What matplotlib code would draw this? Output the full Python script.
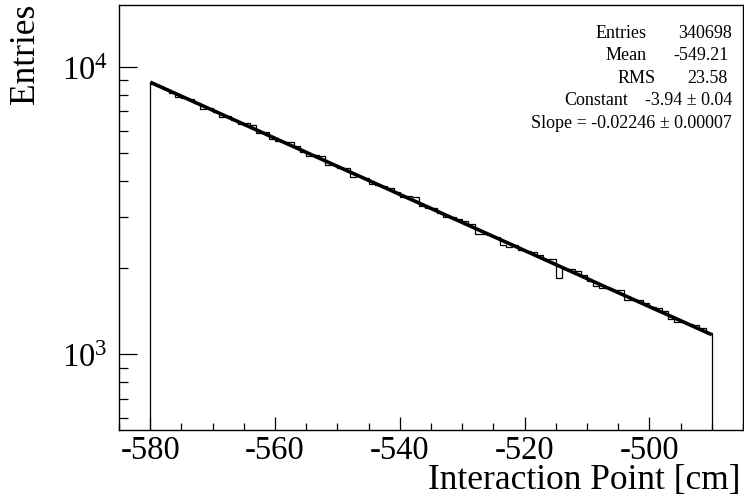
import numpy as np
import matplotlib
matplotlib.use("Agg")
import matplotlib.pyplot as plt
from matplotlib.ticker import MultipleLocator, FixedLocator, NullFormatter

# histogram: 90 bins of 1 cm between -580 and -490
bin_lo = -580
bin_hi = -490
counts = [
    8739, 8588, 8355, 8088, 7828, 7811, 7713, 7467, 7156, 7210,
    6981, 6689, 6741, 6526, 6317, 6364, 6254, 5905, 5950, 5589,
    5521, 5453, 5465, 5318, 5047, 4884, 4923, 4885, 4544, 4556,
    4455, 4443, 4131, 4165, 4113, 3902, 3893, 3845, 3796, 3676,
    3523, 3550, 3522, 3277, 3220, 3229, 3110, 3011, 3004, 2966,
    2914, 2850, 2623, 2631, 2599, 2566, 2410, 2368, 2399, 2300,
    2294, 2277, 2214, 2144, 2138, 1847, 1985, 1980, 1945, 1883,
    1796, 1730, 1699, 1696, 1675, 1678, 1545, 1550, 1546, 1512,
    1463, 1452, 1413, 1328, 1298, 1295, 1279, 1269, 1235, 1184,
]

# expo fit parameters: exp(const + slope * x)
fit_const = -3.94
fit_slope = -0.02246

stat_names = ["Entries", "Mean", "RMS", "Constant"]
stat_values = ["340698", "-549.21", "23.58", "-3.94 \u00b1 0.04"]
slope_text = "Slope = -0.02246 \u00b1 0.00007"

plt.rcParams["font.family"] = ["Liberation Serif", "DejaVu Serif"]
plt.rcParams["mathtext.fontset"] = "custom"
plt.rcParams["mathtext.rm"] = "Liberation Serif"
plt.rcParams["axes.unicode_minus"] = False

W, H = 744, 502
fig = plt.figure(figsize=(W / 100, H / 100), dpi=100)
ax = fig.add_axes([119 / W, 1 - 431 / H, (743 - 119) / W, (431 - 6) / H])

edges = np.linspace(bin_lo, bin_hi, len(counts) + 1)
ax.stairs(counts, edges, baseline=100, color="black", linewidth=0.9)

xf = np.linspace(bin_lo, bin_hi, 300)
ax.plot(xf, np.exp(fit_const + fit_slope * xf), color="black", linewidth=2.6,
        solid_capstyle="butt")

ax.set_yscale("log")
ax.set_xlim(-585, -485)
ax.set_ylim(546, 16390)

ax.xaxis.set_major_locator(MultipleLocator(20))
ax.xaxis.set_minor_locator(MultipleLocator(5))
ax.yaxis.set_major_locator(FixedLocator([1e3, 1e4]))
ax.set_yticklabels([r"$\mathregular{10^{3}}$", r"$\mathregular{10^{4}}$"])
minor = [m * 1e2 for m in range(5, 10)] + [m * 1e3 for m in range(2, 10)]
ax.yaxis.set_minor_locator(FixedLocator(minor))
ax.yaxis.set_minor_formatter(NullFormatter())

ax.tick_params(axis="both", which="both", direction="in", top=False, right=False,
               width=0.9, colors="black")
ax.tick_params(axis="x", which="major", length=9.5, pad=3, labelsize=23.5)
ax.tick_params(axis="x", which="minor", length=4.8)
ax.tick_params(axis="y", which="major", length=13, pad=8, labelsize=23.5)
ax.tick_params(axis="y", which="minor", length=6.5)
for s in ax.spines.values():
    s.set_linewidth(1.0)

fig.text(741 / W, 1 - 489 / H, "Interaction Point [cm]", ha="right", va="baseline",
         fontsize=25.5)
fig.text(26 / W, 1 - 4 / H, "Entries", rotation=90, ha="center", va="top",
         fontsize=25.5)

# stats box
name_x = [621.5, 626, 637, 596]
value_x = [732, 729, 728, 732]
for i, (nm, val) in enumerate(zip(stat_names, stat_values)):
    yb = 1 - (37.5 + 22.6 * i) / H
    fig.text(name_x[i] / W, yb, nm, ha="center", va="baseline", fontsize=13)
    fig.text(value_x[i] / W, yb, val, ha="right", va="baseline", fontsize=13)
fig.text(732 / W, 1 - (37.5 + 22.6 * 4) / H, slope_text, ha="right", va="baseline",
         fontsize=13)

fig.savefig("out.png", dpi=100)
